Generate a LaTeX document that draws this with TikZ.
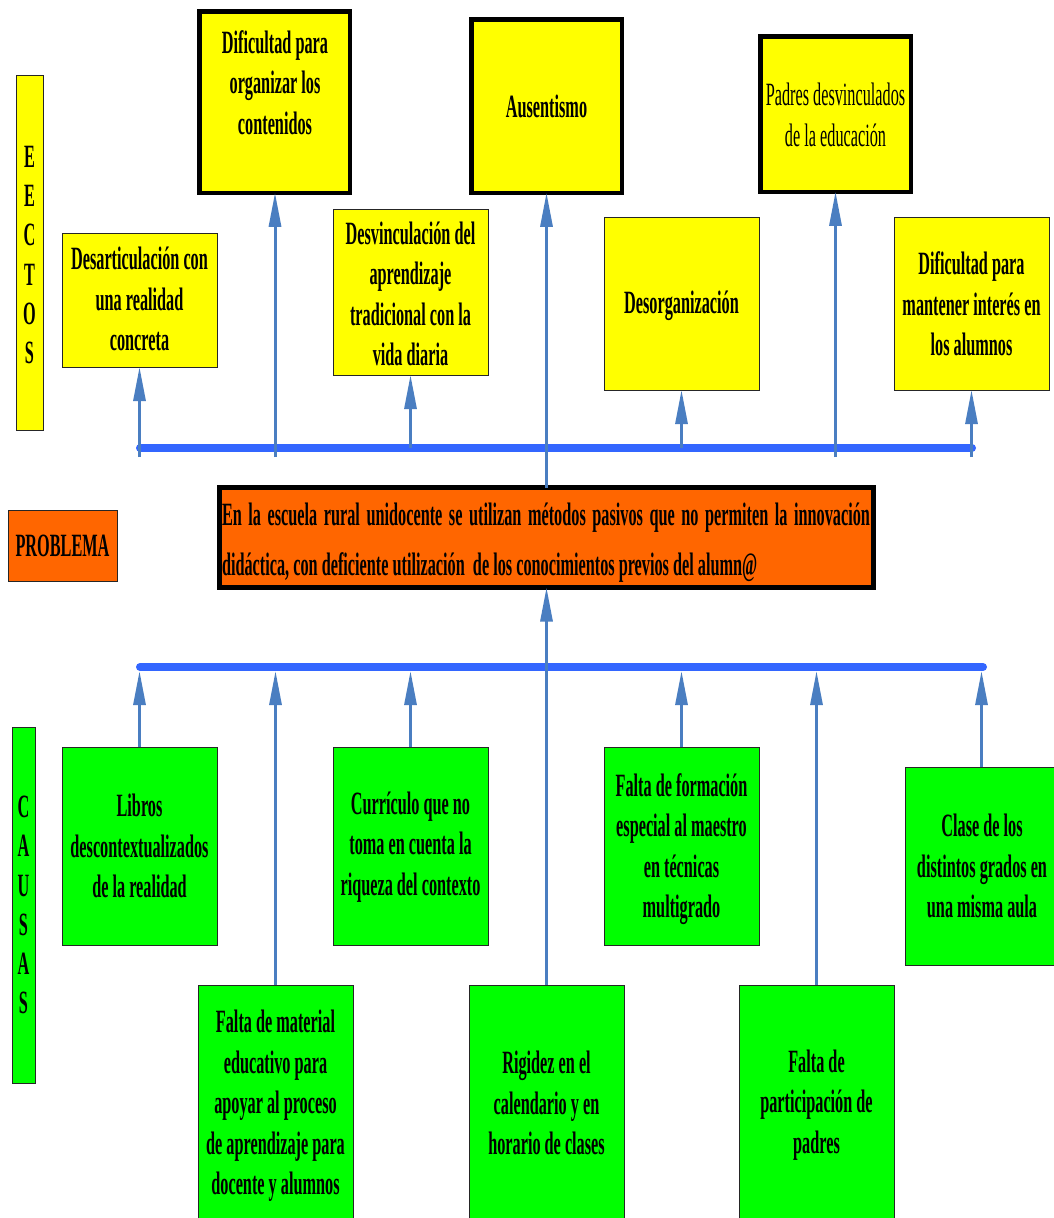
\documentclass[tikz,border=0pt]{standalone}
\usepackage{fontspec}
\setmainfont{Liberation Serif}[FakeStretch=0.5]
\usetikzlibrary{arrows.meta}

\definecolor{boxyellow}{RGB}{255,255,0}
\definecolor{boxgreen}{RGB}{0,255,0}
\definecolor{boxorange}{RGB}{255,102,0}
\definecolor{arrowblue}{RGB}{74,126,193}
\definecolor{barblue}{RGB}{51,102,255}

\begin{document}
\begin{tikzpicture}[x=1pt,y=-1pt,
  every node/.style={inner sep=0pt, outer sep=0pt},
  thinbox/.style={draw=black!85, line width=1pt, minimum width=155pt},
  thickbox/.style={draw=black, line width=4.5pt, minimum width=150.5pt},
  efecto/.style={fill=boxyellow},
  causa/.style={fill=boxgreen},
  naranja/.style={fill=boxorange},
  txt/.style={align=center, font=\fontsize{32.5}{40.5}\selectfont\bfseries},
  txtn/.style={align=center, font=\fontsize{32.5}{40.5}\selectfont},
  letras/.style={align=center, font=\fontsize{32.5}{39.2}\selectfont\bfseries},
  arr/.style={draw=arrowblue, line width=3pt, -{Triangle[length=34pt,width=12pt]}},
  bar/.style={draw=barblue, line width=8pt, line cap=round}
]
% canvas
\fill[white] (0,0) rectangle (1054,1218);
\useasboundingbox (0,0) rectangle (1054,1218);

% ---------- side labels ----------
\node[thinbox, efecto, minimum width=27pt, minimum height=355pt] (efb) at (29.5,252.5) {};
\node[letras] (eft) at (29.5,255) {E\\E\\C\\T\\O\\S};
\node[thinbox, naranja, minimum width=109pt, minimum height=71pt] (prl) at (62.5,545.5) {};
\node[txt] (prlt) at (62.5,546) {PROBLEMA};
\node[thinbox, causa, minimum width=23pt, minimum height=356pt] (cab) at (23.5,905) {};
\node[letras] (cat) at (23.5,905) {C\\A\\U\\S\\A\\S};

% ---------- effects ----------
\node[thinbox, efecto, minimum height=134pt] (d1) at (139.5,300) {};
\node[txt] (d1t) at (139.5,299) {Desarticulación con\\una realidad\\concreta};
\node[thickbox, efecto, minimum height=181.5pt] (d2) at (274.5,102) {};
\node[txt] (d2t) at (275,82.5) {Dificultad para\\organizar los\\contenidos};
\node[thinbox, efecto, minimum height=166pt] (d3) at (410.5,292) {};
\node[txt] (d3t) at (410.5,294) {Desvinculación del\\aprendizaje\\tradicional con la\\vida diaria};
\node[thickbox, efecto, minimum height=173.5pt] (d4) at (546.5,106) {};
\node[txt] (d4t) at (546.5,106) {Ausentismo};
\node[thinbox, efecto, minimum height=173pt] (d5) at (681.5,303.5) {};
\node[txt] (d5t) at (681.5,306) {Desorganización};
\node[thickbox, efecto, minimum height=155.5pt] (d6) at (835.5,114) {};
\node[txtn] (d6t) at (835.5,115) {Padres desvinculados\\de la educación};
\node[thinbox, efecto, minimum height=173pt] (d7) at (971.5,303.5) {};
\node[txt] (d7t) at (971.5,304) {Dificultad para\\mantener interés en\\los alumnos};

% ---------- central problem ----------
\node[draw=black, line width=5pt, naranja, minimum width=654pt, minimum height=100pt] (prob) at (546.5,537.5) {};
\node[anchor=west, align=left, font=\fontsize{32.5}{50}\selectfont\bfseries] (probt) at (222,543)
  {\makebox[648pt][s]{En la escuela rural unidocente se utilizan métodos pasivos que no permiten la innovación}\\
   didáctica, con deficiente utilización\ \ de los conocimientos previos del alumn@};

% ---------- causes ----------
\node[thinbox, causa, minimum height=198pt] (c1) at (139.5,846) {};
\node[txt] (c1t) at (139.5,846) {Libros\\descontextualizados\\de la realidad};
\node[thinbox, causa, minimum height=240pt] (c2) at (275.5,1105) {};
\node[txt] (c2t) at (275.5,1106) {Falta de material\\educativo para\\apoyar al proceso\\de aprendizaje para\\docente y alumnos};
\node[thinbox, causa, minimum height=198pt] (c3) at (410.5,846) {};
\node[txt] (c3t) at (410.5,847) {Currículo que no\\toma en cuenta la\\riqueza del contexto};
\node[thinbox, causa, minimum height=240pt] (c4) at (546.5,1105) {};
\node[txt] (c4t) at (546.5,1103) {Rigidez en el\\calendario y en\\horario de clases};
\node[thinbox, causa, minimum height=198pt] (c5) at (681.5,846) {};
\node[txt] (c5t) at (681.5,849) {Falta de formación\\especial al maestro\\en técnicas\\multigrado};
\node[thinbox, causa, minimum height=240pt] (c6) at (816.5,1105) {};
\node[txt] (c6t) at (816.5,1105) {Falta de\\participación de\\padres};
\node[thinbox, causa, minimum width=153pt, minimum height=198pt] (c7) at (981.5,866) {};
\node[txt] (c7t) at (982,866) {Clase de los\\distintos grados en\\una misma aula};

% ---------- bars ----------
\coordinate (ebl) at (140,448);
\coordinate (ebr) at (972,448);
\coordinate (cbl) at (140,667);
\coordinate (cbr) at (983,667);
\draw[bar] (ebl) -- (ebr);
\draw[bar] (cbl) -- (cbr);

% ---------- effect arrows (rise from the upper bar) ----------
\coordinate (et1) at (139.5,457);
\coordinate (et2) at (275,457);
\coordinate (et3) at (410.5,448);
\coordinate (et5) at (681.5,448);
\coordinate (et6) at (835.5,457);
\coordinate (et7) at (971.5,457);
\draw[arr] (et1) -- (d1.south);
\draw[arr] (et2) -- (et2 |- d2.south);
\draw[arr] (et3) -- (d3.south);
\draw[arr] (prob.north) -- (d4.south);
\draw[arr] (et5) -- (d5.south);
\draw[arr] (et6) -- (d6.south);
\draw[arr] (et7) -- (d7.south);

% ---------- cause arrows (rise to the lower bar) ----------
\coordinate (cb1) at (139.5,671);
\coordinate (cb2) at (275.5,671);
\coordinate (cb3) at (410.5,671);
\coordinate (cb5) at (681.5,671);
\coordinate (cb6) at (816.5,671);
\coordinate (cb7) at (981.5,671);
\draw[arr] (c1.north) -- (cb1);
\draw[arr] (c2.north) -- (cb2);
\draw[arr] (c3.north) -- (cb3);
\draw[arr] (c4.north) -- (prob.south);
\draw[arr] (c5.north) -- (cb5);
\draw[arr] (c6.north) -- (cb6);
\draw[arr] (c7.north) -- (cb7);
\end{tikzpicture}
\end{document}
